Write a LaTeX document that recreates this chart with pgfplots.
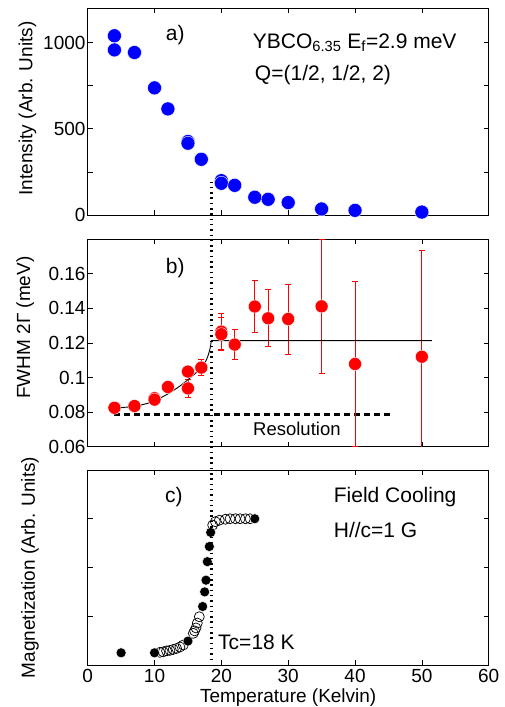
\documentclass[border=0pt]{standalone}
\usepackage{pgfplots}
\pgfplotsset{compat=1.18}
\usepackage{fontspec}
\setmainfont{Liberation Sans}

\newcommand{\tickfont}{\fontsize{19}{22}\selectfont}
\newcommand{\notefont}{\fontsize{21}{24}\selectfont}

\pgfplotsset{
  panel/.style={
    scale only axis,
    width=401pt,
    xmin=0, xmax=60,
    xtick={0,10,...,60},
    tick align=inside,
    major tick length=5pt,
    axis line style={line width=0.8pt},
    every tick/.style={black, line width=0.6pt},
    tick label style={font=\tickfont},
    label style={font=\tickfont},
    /pgf/number format/assume math mode=true,
    yticklabel style={inner sep=2pt},
  },
}

\begin{document}
\begin{tikzpicture}

% a) intensity
\begin{axis}[panel,
  name=pa, at={(0,0)}, anchor=north west,
  height=207pt,
  ymin=0, ymax=1200,
  ytick={0,250,500,750,1000},
  yticklabels={0,,500,,1000},
  xticklabels={},
  ylabel={Intensity (Arb. Units)},
  ylabel style={at={(axis description cs:-0.150,0.515)}, anchor=center},
]
\addplot[only marks, mark=*, mark size=7pt,
  mark options={fill=blue, draw=white, line width=0.4pt}] coordinates {
  (4,1039) (4,957) (7,942) (10,737) (12,615)
  (15,426) (15,416) (17,323) (20,199) (20,184) (22,172)
  (25,103) (27,91) (30,72) (35,35) (40,27) (50,17)
};
\node[font=\notefont] at (axis cs:13.1,1044) {a)};
\node[font=\notefont, anchor=west, inner sep=0pt] at (axis cs:24.7,1000)
  {YBCO\textsubscript{6.35} E\textsubscript{f}=2.9 meV};
\node[font=\notefont, anchor=west, inner sep=0pt] at (axis cs:25.0,812)
  {Q=(1/2, 1/2, 2)};
\coordinate (tctop) at (axis cs:18.5,194);
\end{axis}

% b) FWHM
\begin{axis}[panel,
  name=pb, at={(0,-231pt)}, anchor=north west,
  height=207.7pt,
  ymin=0.06, ymax=0.18,
  ytick={0.06,0.08,...,0.161},
  yticklabels={0.06,0.08,0.1,0.12,0.14,0.16},
  xticklabels={},
  ylabel={FWHM 2Γ (meV)},
  ylabel style={at={(axis description cs:-0.156,0.573)}, anchor=center},
]
\addplot[black, line width=2.6pt, dash pattern=on 6pt off 4pt] coordinates {
  (4,0.0787) (45.8,0.0787)
};
\addplot[red, only marks, mark=*, mark size=6.5pt,
  mark options={fill=red, draw=white, line width=0.4pt},
  error bars/.cd, y dir=both, y explicit,
  error mark=-,
  error bar style={red, line width=0.8pt},
  error mark options={draw=red, rotate=90, mark size=3pt, line width=0.8pt}]
  table[x=T, y=W, y error=E] {
  T  W      E
  4  0.0825 0.0010
  7  0.0835 0.0010
  10 0.0880 0.0020
  10 0.0872 0.0015
  12 0.0945 0.0010
  15 0.1034 0.0020
  15 0.0937 0.0050
  17 0.1057 0.0045
  20 0.1265 0.0105
  20 0.1250 0.0095
  22 0.1190 0.0085
  25 0.1410 0.0150
  27 0.1342 0.0164
  30 0.1338 0.0202
  35 0.1411 0.0385
  40 0.1078 0.0477
  50 0.1120 0.0615
};
\addplot[black, line width=0.9pt] coordinates {
  (4,0.0825) (5,0.0826) (6,0.0829) (7,0.0834) (8,0.0841) (9,0.0851)
  (10,0.0865) (11,0.0884) (12,0.0905) (13,0.0929) (14,0.0956)
  (15,0.0987) (16,0.1020) (16.5,0.1038) (17,0.1058) (17.5,0.1083)
  (17.8,0.1105) (18.0,0.1125) (18.2,0.1150) (18.35,0.1175)
  (18.5,0.1213) (51.5,0.1213)
};
\node[font=\notefont] at (axis cs:13.1,0.163) {b)};
\node[font=\fontsize{18.5}{22}\selectfont] at (axis cs:31.3,0.0702) {Resolution};
\end{axis}

% c) magnetization
\begin{axis}[panel,
  name=pc, at={(0,-462pt)}, anchor=north west,
  height=195pt,
  ymin=0, ymax=4,
  ytick={0,1,2,3,4},
  yticklabels={},
  xticklabel style={yshift=-1pt},
  xlabel={Temperature (Kelvin)},
  xlabel style={inner sep=0pt, yshift=-2.5pt},
  ylabel={Magnetization (Arb. Units)},
  ylabel style={at={(axis description cs:-0.144,0.5)}, anchor=center},
]
\addplot[only marks, mark=o, mark size=5pt,
  mark options={draw=black, fill=white, line width=0.7pt}] coordinates {
  (10.8,0.26) (11.3,0.27) (11.8,0.29) (12.3,0.30) (12.8,0.32) (13.3,0.34)
  (13.8,0.37) (14.3,0.41)
  (15.8,0.65) (16.0,0.70) (16.2,0.76) (16.4,0.86) (16.7,0.99)
  (18.7,2.87) (19.1,2.94) (19.7,2.97) (20.6,2.99) (21.3,3.00)
  (22.1,3.00) (22.8,3.00) (23.6,3.00) (24.3,3.00)
};
\addplot[only marks, mark=*, mark size=5pt,
  mark options={fill=black, draw=white, line width=0.4pt}] coordinates {
  (5,0.25) (10,0.25) (15,0.49) (17.2,1.20) (17.5,1.50) (17.7,1.74)
  (17.9,2.12) (18.2,2.43) (18.4,2.72) (25,3.00)
};
\node[font=\notefont] at (axis cs:12.9,3.45) {c)};
\node[font=\notefont, anchor=west, inner sep=0pt] at (axis cs:36.8,3.45) {Field Cooling};
\node[font=\notefont, anchor=west, inner sep=0pt] at (axis cs:36.8,2.77) {H//c=1 G};
\node[font=\notefont, anchor=west, inner sep=0pt] at (axis cs:19.5,0.46) {Tc=18 K};
\coordinate (tcbot) at (axis cs:18.5,0.08);
\end{axis}

\draw[black, line width=3pt, dash pattern=on 1.5pt off 3.8pt] (tctop) -- (tcbot);

\pgfresetboundingbox
\path[use as bounding box] (-87.7pt,8pt) rectangle (416.3pt,-699pt);
\end{tikzpicture}
\end{document}
